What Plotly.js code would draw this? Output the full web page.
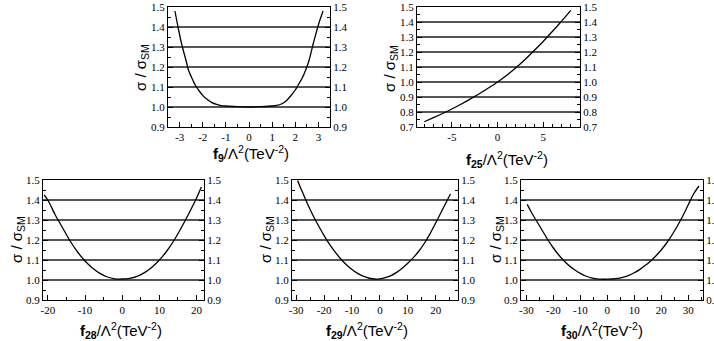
<!DOCTYPE html>
<html>
<head>
<meta charset="utf-8">
<script src="https://cdn.plot.ly/plotly-3.0.1.min.js"></script>
<style>html,body{margin:0;padding:0;background:#fff;}#chart{width:714px;height:341px;}</style>
</head>
<body>
<div id="chart"></div>
<script>
// ---- data ----
const f9X  = [-3.2, -3.05, -2.9, -2.75, -2.6, -2.45, -2.3, -2.15, -2.0, -1.8, -1.6, -1.4, -1.2, -1.0, -0.5, 0, 0.5, 1.0, 1.2, 1.4, 1.6, 1.8, 2.0, 2.15, 2.3, 2.45, 2.6, 2.75, 2.9, 3.05, 3.2];
const f9Y  = [1.48, 1.39, 1.31, 1.245, 1.18, 1.14, 1.105, 1.08, 1.058, 1.037, 1.022, 1.013, 1.007, 1.005, 1.002, 1.0, 1.002, 1.005, 1.008, 1.015, 1.03, 1.055, 1.085, 1.115, 1.145, 1.185, 1.235, 1.305, 1.37, 1.43, 1.48];

const f25X = [-8, -7, -6, -5, -4, -3, -2, -1, 0, 1, 2, 3, 4, 5, 6, 7, 8];
const f25Y = [0.735, 0.762, 0.79, 0.82, 0.852, 0.886, 0.922, 0.96, 1.0, 1.045, 1.095, 1.15, 1.21, 1.272, 1.338, 1.407, 1.478];

const f28X = [-21, -20, -18, -16, -14, -12, -10, -8, -6, -4, -2, 0, 2, 4, 6, 8, 10, 12, 14, 16, 18, 20, 21.3];
const f28Y = [1.425, 1.40, 1.325, 1.26, 1.195, 1.14, 1.095, 1.06, 1.033, 1.015, 1.006, 1.005, 1.008, 1.018, 1.037, 1.064, 1.1, 1.145, 1.2, 1.265, 1.335, 1.41, 1.465];

const f29X = [-29.5, -28, -26, -24, -22, -20, -18, -16, -14, -12, -10, -8, -6, -4, -2, 0, 2, 4, 6, 8, 10, 12, 14, 16, 18, 20, 22, 24, 25.3];
const f29Y = [1.498, 1.447, 1.383, 1.324, 1.271, 1.222, 1.178, 1.139, 1.105, 1.076, 1.052, 1.033, 1.019, 1.01, 1.005, 1.006, 1.012, 1.022, 1.038, 1.059, 1.084, 1.112, 1.145, 1.185, 1.232, 1.285, 1.34, 1.395, 1.43];

const f30X = [-29.7, -28, -26, -24, -22, -20, -18, -16, -14, -12, -10, -8, -6, -4, -2, 0, 2, 4, 6, 8, 10, 12, 14, 16, 18, 20, 22, 24, 26, 28, 30, 32, 34];
const f30Y = [1.378, 1.335, 1.29, 1.245, 1.2, 1.16, 1.125, 1.095, 1.07, 1.05, 1.033, 1.02, 1.011, 1.006, 1.004, 1.004, 1.005, 1.008, 1.014, 1.023, 1.036, 1.052, 1.072, 1.094, 1.12, 1.15, 1.185, 1.225, 1.27, 1.32, 1.375, 1.43, 1.47];

const f9Ticks  = [-3, -2, -1, 0, 1, 2, 3];
const f25Ticks = [-5, 0, 5];
const f28Ticks = [-20, -10, 0, 10, 20];
const f29Ticks = [-30, -20, -10, 0, 10, 20];
const f30Ticks = [-30, -20, -10, 0, 10, 20, 30];

const yTicksA = [0.9, 1.0, 1.1, 1.2, 1.3, 1.4, 1.5];
const yTicksB = [0.7, 0.8, 0.9, 1.0, 1.1, 1.2, 1.3, 1.4, 1.5];

const xTitles = ['<b>f<sub>9</sub></b>/Λ<sup>2</sup>(TeV<sup>-2</sup>)',
                 '<b>f<sub>25</sub></b>/Λ<sup>2</sup>(TeV<sup>-2</sup>)',
                 '<b>f<sub>28</sub></b>/Λ<sup>2</sup>(TeV<sup>-2</sup>)',
                 '<b>f<sub>29</sub></b>/Λ<sup>2</sup>(TeV<sup>-2</sup>)',
                 '<b>f<sub>30</sub></b>/Λ<sup>2</sup>(TeV<sup>-2</sup>)'];
const yTitle = 'σ / σ<sub>SM</sub>';

// ---- layout geometry (pixels in a 714x341 page) ----
const W = 714, H = 341;
const panels = [
  {x: f9X,  y: f9Y,  ticks: f9Ticks,  minor: 0.5, xr: [-3.5, 3.5],   yt: yTicksA, px: [168, 330], py: [7, 127],   tx: [251, 153], ty: [141, 68]},
  {x: f25X, y: f25Y, ticks: f25Ticks, minor: 1,   xr: [-8.8, 9.0],   yt: yTicksB, px: [417, 580], py: [7, 127],   tx: [507, 159], ty: [390, 68]},
  {x: f28X, y: f28Y, ticks: f28Ticks, minor: 5,   xr: [-21.3, 22],   yt: yTicksA, px: [43, 204],  py: [180, 300], tx: [121, 330], ty: [17, 240]},
  {x: f29X, y: f29Y, ticks: f29Ticks, minor: 5,   xr: [-31.5, 28],   yt: yTicksA, px: [292, 458], py: [180, 300], tx: [367, 330], ty: [266, 240]},
  {x: f30X, y: f30Y, ticks: f30Ticks, minor: 5,   xr: [-32, 35.5],   yt: yTicksA, px: [521, 703], py: [180, 300], tx: [602, 330], ty: [496, 240]}
];

const tickFont = {family: 'Liberation Serif', size: 11, color: '#000'};
const titleFont = {family: 'Liberation Sans', size: 15, color: '#000'};

const data = [];
const layout = {
  width: W, height: H,
  margin: {l: 0, r: 0, t: 0, b: 0},
  paper_bgcolor: '#fff', plot_bgcolor: '#fff',
  showlegend: false,
  annotations: []
};

panels.forEach((p, i) => {
  const n = i + 1;
  const xa = 'xaxis' + (n === 1 ? '' : n);
  const ya = 'yaxis' + (n === 1 ? '' : n);
  const yr = 'yaxis' + (n + 5);
  const xref = 'x' + (n === 1 ? '' : n);
  const yref = 'y' + (n === 1 ? '' : n);
  const yrref = 'y' + (n + 5);
  const yrange = [p.yt[0], p.yt[p.yt.length - 1]];
  data.push({
    type: 'scatter', mode: 'lines', x: p.x, y: p.y,
    xaxis: xref, yaxis: yref,
    line: {color: '#000', width: 1.3, shape: 'spline', smoothing: 0.8},
    hoverinfo: 'skip'
  });
  // invisible twin on the right-hand axis so that axis is drawn
  data.push({
    type: 'scatter', mode: 'lines', x: p.x, y: p.y,
    xaxis: xref, yaxis: yrref, opacity: 0,
    line: {color: 'rgba(0,0,0,0)', width: 0},
    hoverinfo: 'skip'
  });
  layout[xa] = {
    domain: [p.px[0] / W, p.px[1] / W], anchor: yref, range: p.xr,
    tickvals: p.ticks, ticktext: p.ticks.map(v => String(v)),
    ticks: 'inside', ticklen: 5, tickwidth: 1, tickcolor: '#000',
    minor: {dtick: p.minor, tick0: 0, ticks: 'inside', ticklen: 3, tickcolor: '#000', showgrid: false},
    showline: true, linecolor: '#000', linewidth: 1, mirror: true,
    showgrid: false, zeroline: false, tickfont: tickFont, fixedrange: true
  };
  layout[ya] = {
    domain: [1 - p.py[1] / H, 1 - p.py[0] / H], anchor: xref, range: yrange,
    tickvals: p.yt, ticktext: p.yt.map(v => v.toFixed(1)),
    ticks: 'inside', ticklen: 5, tickwidth: 1, tickcolor: '#000',
    minor: {dtick: 0.05, tick0: 0, ticks: 'inside', ticklen: 3, tickcolor: '#000', showgrid: false},
    showline: true, linecolor: '#000', linewidth: 1,
    showgrid: true, gridcolor: '#555', gridwidth: 2,
    zeroline: false, tickfont: tickFont, fixedrange: true
  };
  layout[yr] = {
    overlaying: yref, side: 'right', anchor: xref, range: yrange,
    tickvals: p.yt, ticktext: p.yt.map(v => v.toFixed(1)),
    ticks: 'inside', ticklen: 5, tickwidth: 1, tickcolor: '#000',
    minor: {dtick: 0.05, tick0: 0, ticks: 'inside', ticklen: 3, tickcolor: '#000', showgrid: false},
    showline: true, linecolor: '#000', linewidth: 1,
    showgrid: false, zeroline: false, tickfont: tickFont, fixedrange: true
  };
  layout.annotations.push({
    xref: 'paper', yref: 'paper', x: p.tx[0] / W, y: 1 - p.tx[1] / H,
    xanchor: 'center', yanchor: 'middle', showarrow: false,
    text: xTitles[i], font: titleFont
  });
  layout.annotations.push({
    xref: 'paper', yref: 'paper', x: p.ty[0] / W, y: 1 - p.ty[1] / H,
    xanchor: 'center', yanchor: 'middle', showarrow: false, textangle: -90,
    text: yTitle, font: titleFont
  });
});

Plotly.newPlot('chart', data, layout, {staticPlot: true, displayModeBar: false});
</script>
</body>
</html>
